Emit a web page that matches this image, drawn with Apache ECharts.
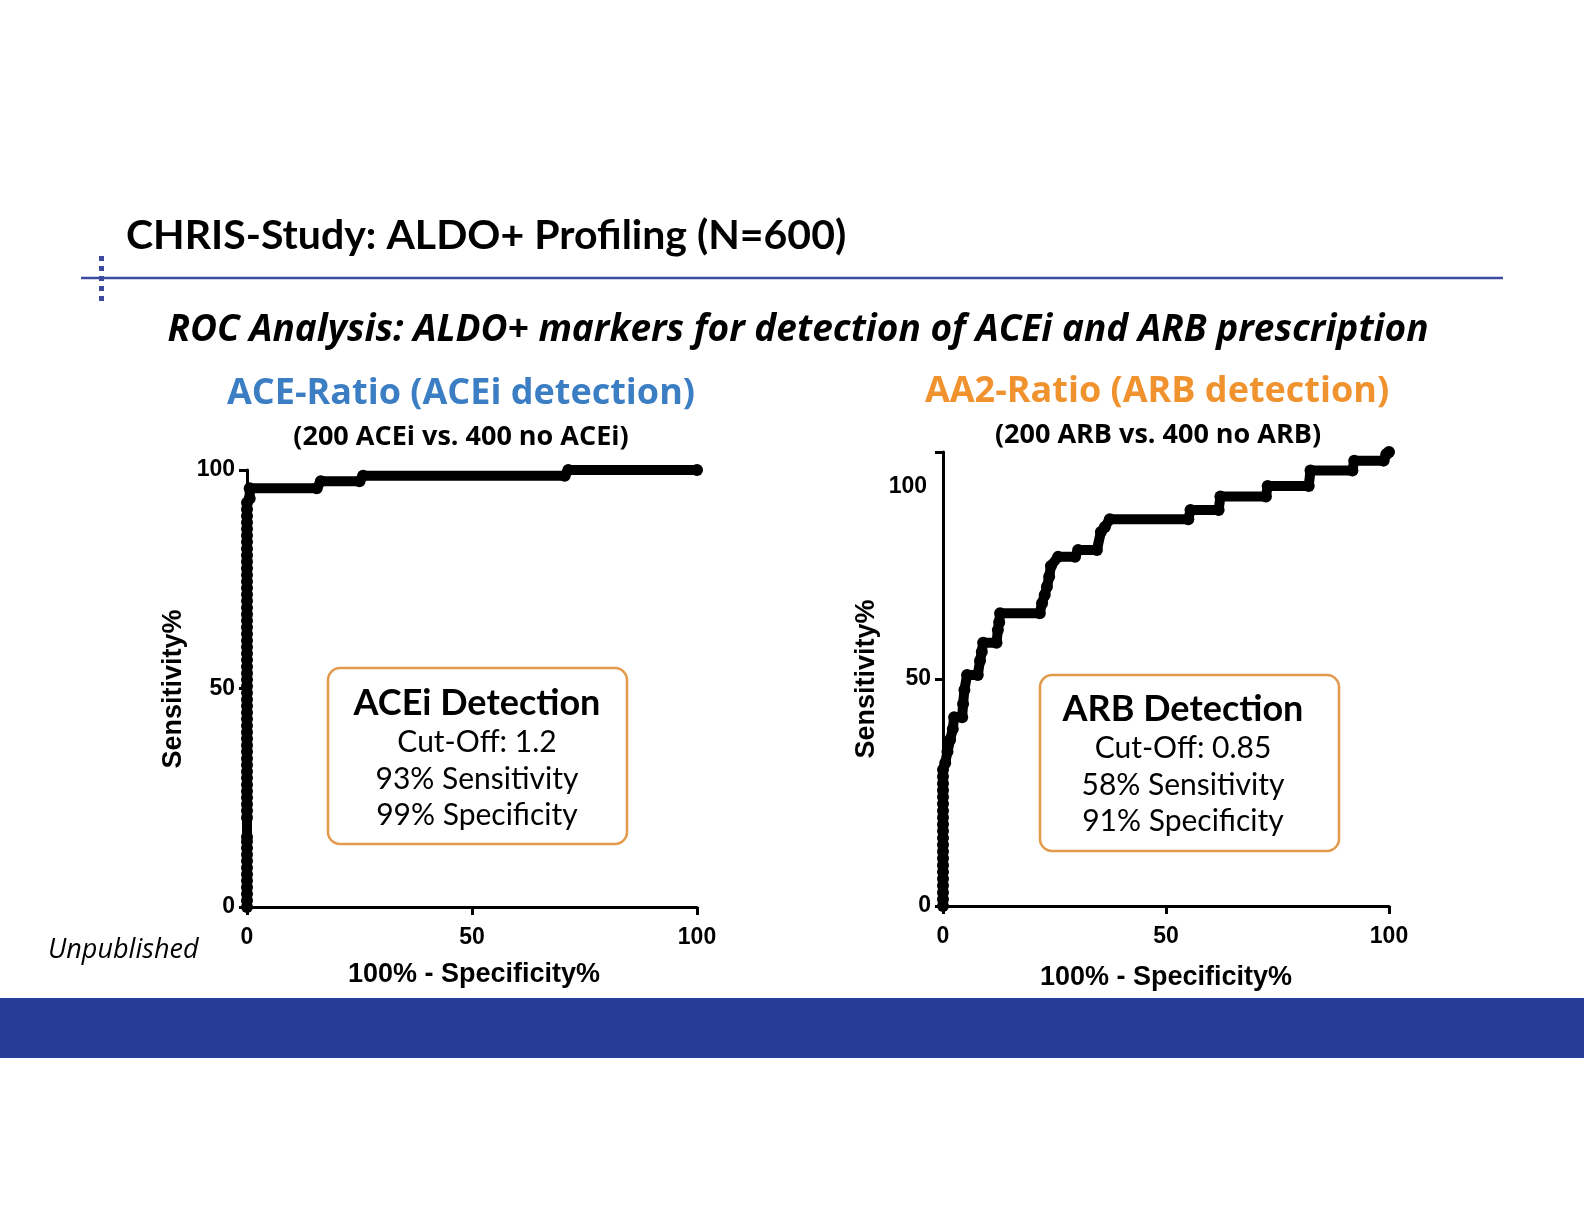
<!DOCTYPE html>
<html>
<head>
<meta charset="utf-8">
<script src="https://cdn.jsdelivr.net/npm/echarts@6/dist/echarts.min.js"></script>
<style>
html,body{margin:0;padding:0;background:#fff;}
#c{width:1584px;height:1224px;}
</style>
</head>
<body>
<div id="c"></div>
<script>
// ---------- data ----------
const xTicks = [0, 50, 100];
const yTicks = [0, 50, 100];

// ACE-Ratio ROC (100% - Specificity%, Sensitivity%)
const aceX = [0,0,0,0,0,0,0,0,0,0,0,0,0,0,0,0,0,0,0,0,0,0,0,0,0,0,0,0,0,0,0,0,0,0,0,0,0,0,0,0,0,0,0,0,0,0,0,0,0,0,0,0,0,0,0,0,0,0,0,0,0,
  0.6,0.6,15.5,16.4,25,25.8,70.6,71.4,100];
const aceY = [0,1.5,3,4.5,6,7.5,9,10.5,12,13.5,15,16,20.5,22,23.5,25,26.5,28,29.5,31,32.5,34,35.5,37,38.5,40,41.5,43,44.5,46,47.5,49,50.5,52,53.5,55,56.5,58,59.5,61,62.5,64,65.5,67,68.5,70,71.5,73,74.5,76,77.5,79,80.5,82,83.5,85,86.5,88,89.5,91,92.5,
  93.5,95.8,95.8,97.4,97.4,98.7,98.7,100,100];

// AA2-Ratio ROC
const arbX = [0,0,0,0,0,0,0,0,0,0,0,0,0,0,0,0,0,0,0,0,0,
  0.5,1,1.6,2.2,2.5,4.3,4.5,4.8,5.4,7.8,8.3,8.7,9,12,12.3,12.6,12.8,21.7,22.2,22.8,23.3,23.8,24.2,25.8,29.6,30.3,34.5,35.4,36.3,37.4,55,55.5,61.8,62.2,72.4,72.8,82,82.4,91.8,92.2,98.8,99.4,100];
const arbY = [0,1.5,3,4.5,6,7.5,9,10.5,12,13.5,15,16.5,18,19.5,21,22.5,24,25.5,27,28.5,30,
  31.5,34,36.6,39,41.6,41.6,44.5,47.6,50.9,50.9,54,56,58,58,60.8,62.5,64.5,64.5,66.7,68.5,70.3,72.5,74.9,76.9,76.9,78.4,78.4,82.4,83.5,85.2,85.2,87.2,87.2,90.2,90.2,92.5,92.5,95.9,95.9,98.1,98.1,99.5,100];

// ---------- chart ----------
const chart = echarts.init(document.getElementById('c'), null, {renderer: 'canvas', width: 1584, height: 1224});

const axisFont = {fontFamily: 'Liberation Sans, Arial, sans-serif', fontWeight: 'bold', fontSize: 23, color: '#000'};
const axisLine = {show: true, lineStyle: {color: '#000', width: 3}};
const axisTick = {show: true, length: 8, lineStyle: {color: '#000', width: 3}};

function xAx(grid) {
  return {type: 'value', gridIndex: grid, min: 0, max: 100, interval: 50,
    axisLine: axisLine, axisTick: axisTick, splitLine: {show: false},
    axisLabel: Object.assign({margin: 19, formatter: v => xTicks.includes(v) ? String(v) : ''}, axisFont)};
}
function yAx(grid, hide100) {
  return {type: 'value', gridIndex: grid, min: 0, max: 100, interval: 50,
    axisLine: axisLine, axisTick: axisTick, splitLine: {show: false},
    axisLabel: Object.assign({margin: 12, formatter: v => (hide100 && v === 100) ? '' : (yTicks.includes(v) ? String(v) : '')}, axisFont)};
}

const zip = (xs, ys) => xs.map((x, i) => [x, ys[i]]);

function rocSeries(idx, data) {
  return {type: 'line', xAxisIndex: idx, yAxisIndex: idx, data: data,
    symbol: 'circle', symbolSize: 12, showAllSymbol: true, clip: false,
    lineStyle: {color: '#000', width: 10, join: 'round', cap: 'round'},
    itemStyle: {color: '#000', borderWidth: 0}, z: 5, animation: false};
}

const titleFont = 'Lato, "Open Sans", sans-serif';
const wideFont = '"Open Sans", Lato, sans-serif';
const chartFont = 'Liberation Sans, Arial, sans-serif';

function txt(x, y, text, font, fill, opts) {
  return {type: 'text', x: x, y: y, z: 10, style: Object.assign({text: text, font: font, fill: fill, align: 'center', verticalAlign: 'middle'}, opts || {})};
}

const graphics = [
  // header
  txt(126, 236, 'CHRIS-Study: ALDO+ Profiling (N=600)', 'bold 41px ' + titleFont, '#000', {align: 'left'}),
  {type: 'line', shape: {x1: 81, y1: 278, x2: 1503, y2: 278}, style: {stroke: '#3c4aa0', lineWidth: 2.5}},
  {type: 'rect', shape: {x: 99, y: 256, width: 5, height: 5}, style: {fill: '#3c4aa0'}},
  {type: 'rect', shape: {x: 99, y: 266, width: 5, height: 5}, style: {fill: '#3c4aa0'}},
  {type: 'rect', shape: {x: 99, y: 276, width: 5, height: 5}, style: {fill: '#3c4aa0'}},
  {type: 'rect', shape: {x: 99, y: 286, width: 5, height: 5}, style: {fill: '#3c4aa0'}},
  {type: 'rect', shape: {x: 99, y: 296, width: 5, height: 5}, style: {fill: '#3c4aa0'}},
  txt(798, 330, 'ROC Analysis: ALDO+ markers for detection of ACEi and ARB prescription', 'italic bold 37px ' + wideFont, '#000'),
  // panel titles
  txt(461, 394, 'ACE-Ratio (ACEi detection)', 'bold 36px ' + wideFont, '#3b7ec3'),
  txt(461, 437, '(200 ACEi vs. 400 no ACEi)', 'bold 27px ' + wideFont, '#000'),
  txt(1157, 392, 'AA2-Ratio (ARB detection)', 'bold 36px ' + wideFont, '#f0922e'),
  txt(1158, 435, '(200 ARB vs. 400 no ARB)', 'bold 27px ' + wideFont, '#000'),
  // axis names
  {type: 'text', x: 174, y: 689, z: 10, rotation: Math.PI / 2, style: {text: 'Sensitivity%', font: 'bold 27px ' + chartFont, fill: '#000', align: 'center', verticalAlign: 'middle'}},
  {type: 'text', x: 867, y: 679, z: 10, rotation: Math.PI / 2, style: {text: 'Sensitivity%', font: 'bold 27px ' + chartFont, fill: '#000', align: 'center', verticalAlign: 'middle'}},
  txt(474, 975, '100% - Specificity%', 'bold 27px ' + chartFont, '#000'),
  txt(1166, 978, '100% - Specificity%', 'bold 27px ' + chartFont, '#000'),
  // misplaced 100 label on right y-axis (as in the original figure)
  txt(927, 487, '100', 'bold 23px ' + chartFont, '#000', {align: 'right'}),
  txt(48, 950, 'Unpublished', 'italic 27px ' + wideFont, '#000', {align: 'left'}),
  // boxes
  {type: 'rect', z: 1, shape: {x: 328, y: 668, width: 299, height: 176, r: 12}, style: {fill: '#fff', stroke: '#e39a4a', lineWidth: 2.5}},
  txt(477, 703, 'ACEi Detection', 'bold 36px ' + titleFont, '#000'),
  txt(477, 742, 'Cut-Off: 1.2', '30px ' + titleFont, '#000'),
  txt(477, 779, '93% Sensitivity', '30px ' + titleFont, '#000'),
  txt(477, 815, '99% Specificity', '30px ' + titleFont, '#000'),
  {type: 'rect', z: 1, shape: {x: 1040, y: 675, width: 299, height: 176, r: 12}, style: {fill: '#fff', stroke: '#e39a4a', lineWidth: 2.5}},
  txt(1183, 709, 'ARB Detection', 'bold 36px ' + titleFont, '#000'),
  txt(1183, 748, 'Cut-Off: 0.85', '30px ' + titleFont, '#000'),
  txt(1183, 785, '58% Sensitivity', '30px ' + titleFont, '#000'),
  txt(1183, 821, '91% Specificity', '30px ' + titleFont, '#000'),
  // bottom band
  {type: 'rect', shape: {x: 0, y: 998, width: 1584, height: 60}, style: {fill: '#263c96'}}
];

chart.setOption({
  backgroundColor: '#fff',
  animation: false,
  grid: [
    {left: 247, top: 470, width: 450, height: 437},
    {left: 943, top: 452, width: 446, height: 454}
  ],
  xAxis: [xAx(0), xAx(1)],
  yAxis: [yAx(0, false), yAx(1, true)],
  series: [rocSeries(0, zip(aceX, aceY)), rocSeries(1, zip(arbX, arbY))],
  graphic: graphics
});
</script>
</body>
</html>
